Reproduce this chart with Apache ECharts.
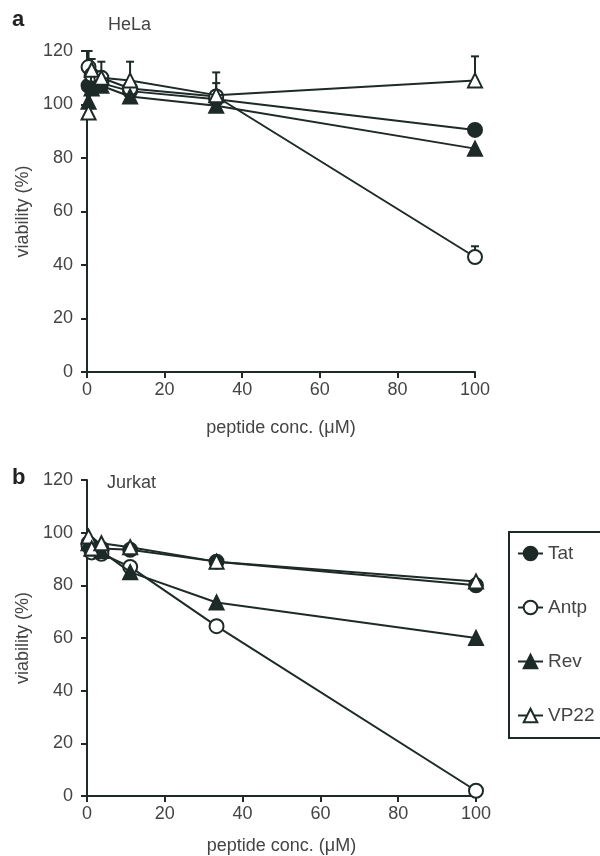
<!DOCTYPE html>
<html>
<head>
	<meta charset="utf-8"/>
	<title>Peptide viability</title>
	<script src="https://cdn.jsdelivr.net/npm/echarts@6/dist/echarts.min.js"></script>
	<style>
		* { padding: 0; margin: 0; }
		body { background: #fff; }
		#chart { width: 600px; height: 856px; }
	</style>
</head>
<body>
	<div id="chart"></div>
	<script>
		// peptide concentrations (uM)
		const conc = [0.4, 1.2, 3.7, 11.1, 33.3, 100];
		const xTicks = [0, 20, 40, 60, 80, 100];
		const yTicks = [0, 20, 40, 60, 80, 100, 120];

		// HeLa viability (%)
		const helaTat  = [107, 108, 108, 105, 102, 90.5];
		const helaAntp = [114, 111, 110, 106, 103, 43];
		const helaRev  = [101, 106, 107, 103, 99.5, 83.5];
		const helaVP22 = [97, 113, 110, 109, 103.5, 109];
		// upper error bars (0 = none drawn)
		const helaTatErr  = [0, 0, 0, 0, 6, 0];
		const helaAntpErr = [6, 4, 0, 0, 0, 4];
		const helaRevErr  = [0, 0, 0, 0, 0, 0];
		const helaVP22Err = [0, 4, 6, 7, 8.5, 9];

		// Jurkat viability (%)
		const jurTat  = [96, 95, 94, 93.5, 89, 80];
		const jurAntp = [95, 92.5, 92, 87, 64.5, 2];
		const jurRev  = [96, 94, 93, 85, 73.5, 60];
		const jurVP22 = [98.5, 94, 96, 94.5, 89, 81.5];

		const names = ['Tat', 'Antp', 'Rev', 'VP22'];
		const symbols = ['circle', 'emptyCircle', 'triangle', 'emptyTriangle'];
		const ink = '#1d2a27';
		const txt = '#444';

		function pts(vals) {
			return conc.map((c, i) => [c, vals[i]]);
		}
		function errPts(vals, errs) {
			let out = [];
			for (let i = 0; i < conc.length; ++i) {
				if (errs[i] > 0) out.push([conc[i], vals[i], errs[i]]);
			}
			return out;
		}
		function lineSeries(name, k, vals, idx) {
			return {
				name: name,
				type: 'line',
				xAxisIndex: idx,
				yAxisIndex: idx,
				data: pts(vals),
				symbol: symbols[k],
				symbolSize: 14,
				z: 3 + k,
				lineStyle: { color: ink, width: 2 },
				itemStyle: { color: ink, borderColor: ink, borderWidth: 2 },
				emphasis: { disabled: true }
			};
		}
		function errSeries(data, idx) {
			return {
				name: 'err',
				type: 'custom',
				xAxisIndex: idx,
				yAxisIndex: idx,
				z: 2,
				data: data,
				renderItem: function (params, api) {
					const p = api.coord([api.value(0), api.value(1)]);
					const t = api.coord([api.value(0), api.value(1) + api.value(2)]);
					const st = { stroke: ink, lineWidth: 2 };
					return {
						type: 'group',
						children: [
							{ type: 'line', shape: { x1: p[0], y1: p[1], x2: t[0], y2: t[1] }, style: st },
							{ type: 'line', shape: { x1: t[0] - 4, y1: t[1], x2: t[0] + 4, y2: t[1] }, style: st }
						]
					};
				}
			};
		}
		function xAxis(idx) {
			return {
				gridIndex: idx, type: 'value', min: xTicks[0], max: xTicks[xTicks.length - 1], interval: 20,
				name: 'peptide conc. (μM)', nameLocation: 'middle', nameGap: idx === 0 ? 47 : 41,
				nameTextStyle: { fontSize: 18, color: txt, fontFamily: 'Liberation Sans' },
				axisLine: { show: true, lineStyle: { color: ink, width: 2 } },
				axisTick: { show: true, length: 6, lineStyle: { color: ink, width: 2 } },
				axisLabel: { fontSize: 18, color: txt, margin: 9, fontFamily: 'Liberation Sans' },
				splitLine: { show: false }
			};
		}
		function yAxis(idx) {
			return {
				gridIndex: idx, type: 'value', min: yTicks[0], max: yTicks[yTicks.length - 1], interval: 20,
				name: 'viability (%)', nameLocation: 'middle', nameGap: 55,
				nameTextStyle: { fontSize: 18, color: txt, fontFamily: 'Liberation Sans' },
				axisLine: { show: true, lineStyle: { color: ink, width: 2 } },
				axisTick: { show: true, length: 6, lineStyle: { color: ink, width: 2 } },
				axisLabel: { fontSize: 18, color: txt, margin: 14, fontFamily: 'Liberation Sans' },
				splitLine: { show: false }
			};
		}

		const hela = [helaTat, helaAntp, helaRev, helaVP22];
		const helaErr = [helaTatErr, helaAntpErr, helaRevErr, helaVP22Err];
		const jur = [jurTat, jurAntp, jurRev, jurVP22];

		let series = [];
		let errData = [];
		hela.forEach((v, k) => { errData = errData.concat(errPts(v, helaErr[k])); });
		series.push(errSeries(errData, 0));
		names.forEach((n, k) => series.push(lineSeries(n, k, hela[k], 0)));
		names.forEach((n, k) => series.push(lineSeries(n, k, jur[k], 1)));

		const chart = echarts.init(document.getElementById('chart'), null, { renderer: 'canvas' });
		chart.setOption({
			animation: false,
			textStyle: { fontFamily: 'Liberation Sans' },
			grid: [
				{ left: 87, top: 51, width: 388, height: 321 },
				{ left: 87, top: 480, width: 389, height: 319 }
			],
			xAxis: [xAxis(0), xAxis(1)],
			yAxis: [yAxis(0), yAxis(1)],
			legend: {
				data: names,
				orient: 'vertical',
				left: 509,
				top: 532,
				padding: [12, 10, 13, 8],
				itemGap: 35,
				itemWidth: 25,
				itemHeight: 17,
				borderColor: ink,
				borderWidth: 2,
				selectedMode: false,
				textStyle: { fontSize: 19, color: txt, fontFamily: 'Liberation Sans' }
			},
			graphic: [
				{ type: 'text', left: 12, top: 9, style: { text: 'a', font: 'bold 22px Liberation Sans', fill: '#222' } },
				{ type: 'text', left: 108, top: 16, style: { text: 'HeLa', font: '18px Liberation Sans', fill: txt } },
				{ type: 'text', left: 12, top: 467, style: { text: 'b', font: 'bold 22px Liberation Sans', fill: '#222' } },
				{ type: 'text', left: 107, top: 474, style: { text: 'Jurkat', font: '18px Liberation Sans', fill: txt } }
			],
			series: series
		});
	</script>
</body>
</html>
